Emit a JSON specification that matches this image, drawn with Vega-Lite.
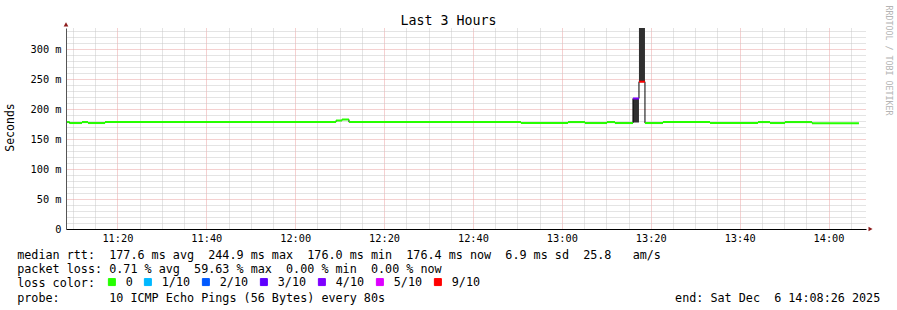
{
  "$schema": "https://vega.github.io/schema/vega-lite/v6.json",
  "width": 800,
  "height": 201,
  "autosize": {"type": "none"},
  "padding": {"left": 66, "top": 28, "right": 31, "bottom": 81},
  "background": "white",
  "config": {
    "view": {"stroke": null},
    "font": "DejaVu Sans Mono",
    "axis": {"labelFont": "DejaVu Sans Mono", "titleFont": "DejaVu Sans Mono", "labelColor": "#000", "titleColor": "#000", "titleFontWeight": "normal"},
    "legend": {"labelFont": "DejaVu Sans Mono", "titleFont": "DejaVu Sans Mono"}
  },
  "data": {"values": [
    {"t": "2025-12-06T11:08:40Z", "t_end": "2025-12-06T11:09:13Z", "median": 178.2, "lo": 178.2, "hi": 178.2, "loss": "0"},
    {"t": "2025-12-06T11:09:13Z", "t_end": "2025-12-06T11:12:02Z", "median": 176.6, "lo": 176.6, "hi": 176.6, "loss": "0"},
    {"t": "2025-12-06T11:12:02Z", "t_end": "2025-12-06T11:13:23Z", "median": 178.2, "lo": 178.2, "hi": 178.2, "loss": "0"},
    {"t": "2025-12-06T11:13:23Z", "t_end": "2025-12-06T11:17:13Z", "median": 176.6, "lo": 176.6, "hi": 176.6, "loss": "0"},
    {"t": "2025-12-06T11:17:13Z", "t_end": "2025-12-06T12:09:11Z", "median": 178.2, "lo": 178.2, "hi": 178.2, "loss": "0"},
    {"t": "2025-12-06T12:09:11Z", "t_end": "2025-12-06T12:10:32Z", "median": 180.8, "lo": 180.8, "hi": 180.8, "loss": "0"},
    {"t": "2025-12-06T12:10:32Z", "t_end": "2025-12-06T12:12:06Z", "median": 182.5, "lo": 182.5, "hi": 182.5, "loss": "0"},
    {"t": "2025-12-06T12:12:06Z", "t_end": "2025-12-06T12:50:48Z", "median": 178.2, "lo": 178.2, "hi": 178.2, "loss": "0"},
    {"t": "2025-12-06T12:50:48Z", "t_end": "2025-12-06T13:01:23Z", "median": 176.6, "lo": 176.6, "hi": 176.6, "loss": "0"},
    {"t": "2025-12-06T13:01:23Z", "t_end": "2025-12-06T13:05:12Z", "median": 178.2, "lo": 178.2, "hi": 178.2, "loss": "0"},
    {"t": "2025-12-06T13:05:12Z", "t_end": "2025-12-06T13:10:09Z", "median": 176.6, "lo": 176.6, "hi": 176.6, "loss": "0"},
    {"t": "2025-12-06T13:10:09Z", "t_end": "2025-12-06T13:11:57Z", "median": 178.2, "lo": 178.2, "hi": 178.2, "loss": "0"},
    {"t": "2025-12-06T13:11:57Z", "t_end": "2025-12-06T13:16:00Z", "median": 176.6, "lo": 176.6, "hi": 176.6, "loss": "0"},
    {"t": "2025-12-06T13:16:00Z", "t_end": "2025-12-06T13:17:21Z", "median": 217.5, "lo": 177.5, "hi": 217.5, "loss": "4/10"},
    {"t": "2025-12-06T13:17:21Z", "t_end": "2025-12-06T13:18:42Z", "median": 245.5, "lo": 245.5, "hi": 400, "loss": "9/10"},
    {"t": "2025-12-06T13:18:42Z", "t_end": "2025-12-06T13:22:45Z", "median": 176.6, "lo": 176.6, "hi": 176.6, "loss": "0"},
    {"t": "2025-12-06T13:22:45Z", "t_end": "2025-12-06T13:33:20Z", "median": 178.2, "lo": 178.2, "hi": 178.2, "loss": "0"},
    {"t": "2025-12-06T13:33:20Z", "t_end": "2025-12-06T13:44:08Z", "median": 176.6, "lo": 176.6, "hi": 176.6, "loss": "0"},
    {"t": "2025-12-06T13:44:08Z", "t_end": "2025-12-06T13:46:50Z", "median": 178.2, "lo": 178.2, "hi": 178.2, "loss": "0"},
    {"t": "2025-12-06T13:46:50Z", "t_end": "2025-12-06T13:50:12Z", "median": 176.6, "lo": 176.6, "hi": 176.6, "loss": "0"},
    {"t": "2025-12-06T13:50:12Z", "t_end": "2025-12-06T13:56:17Z", "median": 178.2, "lo": 178.2, "hi": 178.2, "loss": "0"},
    {"t": "2025-12-06T13:56:17Z", "t_end": "2025-12-06T14:06:51Z", "median": 176.4, "lo": 176.4, "hi": 176.4, "loss": "0"}
  ]},
  "resolve": {"axis": {"x": "independent", "y": "independent"}},
  "layer": [
    {
      "mark": {"type": "area", "interpolate": "step-after", "color": "#303030", "clip": true},
      "encoding": {
        "x": {"field": "t", "type": "temporal",
          "scale": {"type": "utc", "domain": [{"year": 2025, "month": 12, "date": 6, "hours": 11, "minutes": 8, "seconds": 26, "utc": true}, {"year": 2025, "month": 12, "date": 6, "hours": 14, "minutes": 8, "seconds": 26, "utc": true}]},
          "axis": {"orient": "bottom", "grid": true, "gridColor": "#c8c8c8", "gridDash": [1, 1], "values": [1765019400000, 1765019700000, 1765020300000, 1765020600000, 1765020900000, 1765021500000, 1765021800000, 1765022100000, 1765022700000, 1765023000000, 1765023300000, 1765023900000, 1765024200000, 1765024500000, 1765025100000, 1765025400000, 1765025700000, 1765026300000, 1765026600000, 1765026900000, 1765027500000, 1765027800000, 1765028100000, 1765028700000, 1765029000000, 1765029300000, 1765029900000], "labels": false, "ticks": false, "domain": false, "title": null}},
        "y": {"field": "hi", "type": "quantitative",
          "scale": {"domain": [0, 335], "nice": false, "zero": false},
          "axis": {"orient": "left", "grid": true, "gridColor": "#c8c8c8", "gridDash": [1, 1], "values": [10, 20, 30, 40, 60, 70, 80, 90, 110, 120, 130, 140, 160, 170, 180, 190, 210, 220, 230, 240, 260, 270, 280, 290, 310, 320, 330], "labels": false, "ticks": false, "domain": false, "title": null}},
        "y2": {"field": "lo"}
      }
    },
    {
      "mark": {"type": "line", "interpolate": "step-after", "color": "#000", "strokeWidth": 1},
      "encoding": {
        "x": {"field": "t", "type": "temporal",
          "scale": {"type": "utc", "domain": [{"year": 2025, "month": 12, "date": 6, "hours": 11, "minutes": 8, "seconds": 26, "utc": true}, {"year": 2025, "month": 12, "date": 6, "hours": 14, "minutes": 8, "seconds": 26, "utc": true}]},
          "axis": {"orient": "top", "grid": false, "labels": false, "ticks": false, "domain": false, "title": "Last 3 Hours", "titleX": 382, "titleY": -4, "titleAlign": "center", "titleBaseline": "alphabetic", "titleFontSize": 13.3, "titleColor": "#000"}},
        "y": {"field": "median", "type": "quantitative",
          "scale": {"domain": [0, 335], "nice": false, "zero": false},
          "axis": {"orient": "right", "grid": false, "labels": false, "ticks": false, "domain": false, "title": "RRDTOOL / TOBI OETIKER", "titleAngle": 90, "titleX": 21.5, "titleY": 32, "titleAlign": "center", "titleBaseline": "middle", "titleFontSize": 8.3, "titleColor": "#b4b4b4"}}
      }
    },
    {
      "mark": {"type": "rule", "strokeWidth": 2},
      "encoding": {
        "x": {"field": "t", "type": "temporal",
          "scale": {"type": "utc", "domain": [{"year": 2025, "month": 12, "date": 6, "hours": 11, "minutes": 8, "seconds": 26, "utc": true}, {"year": 2025, "month": 12, "date": 6, "hours": 14, "minutes": 8, "seconds": 26, "utc": true}]},
          "axis": {"orient": "bottom", "grid": true, "gridColor": "#eba3a3", "gridDash": [1, 1], "values": [1765020000000, 1765021200000, 1765022400000, 1765023600000, 1765024800000, 1765026000000, 1765027200000, 1765028400000, 1765029600000], "format": "%H:%M", "labelFontSize": 10.3, "labelPadding": 4, "labelFlush": false, "ticks": false, "domain": true, "domainColor": "#000", "domainWidth": 1,
            "title": ["median rtt:\u00a0\u00a0177.6 ms avg\u00a0\u00a0244.9 ms max\u00a0\u00a0176.0 ms min\u00a0\u00a0176.4 ms now\u00a0\u00a06.9 ms sd\u00a0\u00a025.8\u00a0\u00a0\u00a0am/s", "packet loss: 0.71 % avg\u00a0\u00a059.63 % max\u00a0\u00a00.00 % min\u00a0\u00a00.00 % now", "loss color:", "probe:\u00a0\u00a0\u00a0\u00a0\u00a0\u00a0\u00a010 ICMP Echo Pings (56 Bytes) every 80s\u00a0\u00a0\u00a0\u00a0\u00a0\u00a0\u00a0\u00a0\u00a0\u00a0\u00a0\u00a0\u00a0\u00a0\u00a0\u00a0\u00a0\u00a0\u00a0\u00a0\u00a0\u00a0\u00a0\u00a0\u00a0\u00a0\u00a0\u00a0\u00a0\u00a0\u00a0\u00a0\u00a0\u00a0\u00a0\u00a0\u00a0\u00a0\u00a0\u00a0\u00a0end: Sat Dec\u00a0\u00a06 14:08:26 2025"],
            "titleX": -49.3, "titleY": 29.5, "titleAlign": "left", "titleBaseline": "alphabetic", "titleLineHeight": 14.2, "titleFontSize": 11.75, "titleColor": "#000"}},
        "x2": {"field": "t_end"},
        "y": {"field": "median", "type": "quantitative",
          "scale": {"domain": [0, 335], "nice": false, "zero": false},
          "axis": {"orient": "left", "grid": true, "gridColor": "#eba3a3", "gridDash": [1, 1], "values": [0, 50, 100, 150, 200, 250, 300], "labelExpr": "datum.value == 0 ? '0\u00a0\u00a0' : datum.value + ' m'", "labelFontSize": 10.3, "labelPadding": 5, "ticks": false, "domain": true, "domainColor": "#555", "title": "Seconds", "titleX": -55.5, "titleY": 99, "titleAngle": -90, "titleAlign": "center", "titleBaseline": "middle", "titleFontSize": 11.5, "titleColor": "#000"}},
        "color": {"field": "loss", "type": "nominal",
          "scale": {"domain": ["0", "1/10", "2/10", "3/10", "4/10", "5/10", "9/10"], "range": ["#26ff00", "#00b8ff", "#0059ff", "#5e00ff", "#7e00ff", "#dd00ff", "#ff0000"]},
          "legend": {"orient": "none", "legendX": 40, "legendY": 248, "direction": "horizontal", "title": null, "padding": 0, "symbolType": "square", "symbolSize": 49, "symbolStrokeColor": "#000", "symbolStrokeWidth": 1, "labelFontSize": 11.75, "labelColor": "#000", "labelOffset": 8, "columnPadding": 9,
            "encode": {"symbols": {"update": {"fill": {"scale": "color", "field": "value"}, "fillOpacity": {"value": 1}, "stroke": {"value": "#000"}, "strokeWidth": {"value": 1}}}}}}
      }
    },
    {
      "data": {"values": [{"arrow": "y"}]},
      "mark": {"type": "point", "shape": "triangle-up", "filled": true, "color": "#8e1c1c", "size": 22, "opacity": 1},
      "encoding": {
        "x": {"datum": 1765019306000, "type": "temporal",
          "scale": {"type": "utc", "domain": [{"year": 2025, "month": 12, "date": 6, "hours": 11, "minutes": 8, "seconds": 26, "utc": true}, {"year": 2025, "month": 12, "date": 6, "hours": 14, "minutes": 8, "seconds": 26, "utc": true}]}, "axis": null},
        "y": {"datum": 341, "type": "quantitative", "scale": {"domain": [0, 335], "nice": false, "zero": false}, "axis": null}
      }
    },
    {
      "data": {"values": [{"arrow": "x"}]},
      "mark": {"type": "point", "shape": "triangle-right", "filled": true, "color": "#8e1c1c", "size": 22, "opacity": 1},
      "encoding": {
        "x": {"datum": 1765030167000, "type": "temporal",
          "scale": {"type": "utc", "domain": [{"year": 2025, "month": 12, "date": 6, "hours": 11, "minutes": 8, "seconds": 26, "utc": true}, {"year": 2025, "month": 12, "date": 6, "hours": 14, "minutes": 8, "seconds": 26, "utc": true}]}, "axis": null},
        "y": {"datum": 0, "type": "quantitative", "scale": {"domain": [0, 335], "nice": false, "zero": false}, "axis": null}
      }
    }
  ]
}
